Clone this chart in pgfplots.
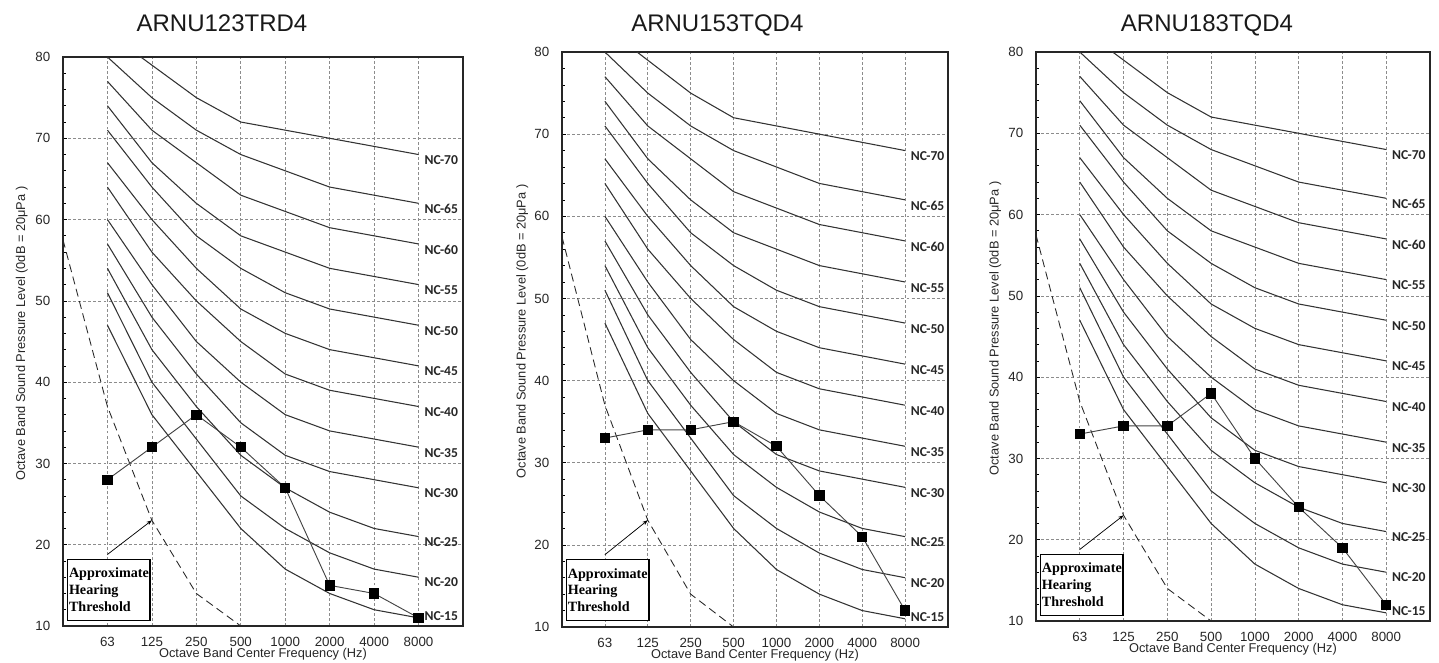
\documentclass[border=0pt]{standalone}
\usepackage{fontspec}
\setmainfont{Liberation Sans}
\newfontfamily\ncfont{Carlito}
\newfontfamily\serifb{Liberation Serif}
\usepackage{pgfplots}
\usepackage{pgfplotstable}
\pgfplotsset{compat=1.18}
\usetikzlibrary{arrows.meta}

% NC curves: x position (1=63 Hz ... 8=8000 Hz)
\pgfplotstableread{
x nca ncb ncc ncd nce ncf ncg nch nci ncj nck ncl
1 47 51 54 57 60 64 67 71 74 77 80 83
2 36 40 44 48 52 56 60 64 67 71 75 79
3 29 33 37 41 45 50 54 58 62 67 71 75
4 22 26 31 35 40 45 49 54 58 63 68 72
5 17 22 27 31 36 41 46 51 56 61 66 71
6 14 19 24 29 34 39 44 49 54 59 64 70
7 12 17 22 28 33 38 43 48 53 58 63 69
8 11 16 21 27 32 37 42 47 52 57 62 68
}\nctable

\pgfplotstableread{
x y
0 57.5
1 37
2 23
3 14
4 10
}\thresh

\pgfplotstableread{
x y
1 28
2 32
3 36
4 32
5 27
6 15
7 14
8 11
}\unitA

\pgfplotstableread{
x y
1 33
2 34
3 34
4 35
5 32
6 26
7 21
8 12
}\unitB

\pgfplotstableread{
x y
1 33
2 34
3 34
4 38
5 30
6 24
7 19
8 12
}\unitC

\definecolor{nccol}{HTML}{333333}
\definecolor{gridcol}{HTML}{8C8C8C}
\definecolor{datacol}{HTML}{444444}

\pgfplotsset{
  /pgf/number format/assume math mode=true,
  ncaxis/.style={
    scale only axis,
    xmin=0, xmax=9, ymin=10, ymax=80,
    xtick={1,...,8},
    xticklabels={63,125,250,500,1000,2000,4000,8000},
    ytick={10,20,...,80},
    minor y tick num=4,
    tick pos=left, tick align=inside,
    xtick style={draw=none},
    major tick length=3pt, minor tick length=2.5pt,
    every tick/.style={black, line width=0.5pt},
    grid=major,
    grid style={gridcol, line width=0.5pt, dash pattern=on 2.2pt off 1.6pt},
    axis line style={line width=0.85pt, black!85},
    tick label style={font=\fontsize{10}{10}\selectfont, text=black!85},
    xticklabel style={yshift=-5pt},
    yticklabel style={xshift=-6pt},
    xlabel={Octave Band Center Frequency (Hz)},
    ylabel={Octave Band Sound Pressure Level (0dB = 20μPa )},
    label style={font=\fontsize{9.6}{10}\selectfont, text=black!85},
    xlabel style={at={(axis description cs:0.5,0)}, anchor=base, yshift=-24pt},
    ylabel style={at={(axis description cs:-0.103,0.514)}, anchor=center},
    clip=true,
  },
  ncline/.style={nccol, line width=0.8pt, no markers},
  dataline/.style={datacol, line width=0.7pt, mark=square*, mark size=3.5pt,
     mark options={black, fill=black, solid}},
}

\newcommand\ncstuff{%
  \addplot[ncline] table[x=x,y=nca] {\nctable};
  \addplot[ncline] table[x=x,y=ncb] {\nctable};
  \addplot[ncline] table[x=x,y=ncc] {\nctable};
  \addplot[ncline] table[x=x,y=ncd] {\nctable};
  \addplot[ncline] table[x=x,y=nce] {\nctable};
  \addplot[ncline] table[x=x,y=ncf] {\nctable};
  \addplot[ncline] table[x=x,y=ncg] {\nctable};
  \addplot[ncline] table[x=x,y=nch] {\nctable};
  \addplot[ncline] table[x=x,y=nci] {\nctable};
  \addplot[ncline] table[x=x,y=ncj] {\nctable};
  \addplot[ncline] table[x=x,y=nck] {\nctable};
  \addplot[ncline] table[x=x,y=ncl] {\nctable};
  \addplot[black!85, line width=0.65pt, dash pattern=on 6pt off 3.5pt] table[x=x,y=y] {\thresh};
}

\newcommand\nclab[2]{%
  \node[anchor=west, font=\ncfont\bfseries\fontsize{10.2}{10}\selectfont, text=black!85, inner sep=0pt] at (axis cs:8.13,#1) {#2};
}

\newcommand\ncannot{%
  \draw[black, line width=0.55pt, -{Stealth[length=4pt,width=3pt]}] (axis cs:1,18.8) -- (axis cs:2,23);
  \node[draw=black, line width=1pt, fill=white, anchor=north west,
        minimum width=61.5pt, minimum height=45.75pt, inner xsep=1pt, inner ysep=1pt,
        align=left, font=\serifb\bfseries\fontsize{10.6}{12.4}\selectfont]
        at (axis cs:0.09,18.3) {Approximate\\Hearing\\Threshold};
  \nclab{67.3}{NC-70}
  \nclab{61.3}{NC-65}
  \nclab{56.3}{NC-60}
  \nclab{51.3}{NC-55}
  \nclab{46.3}{NC-50}
  \nclab{41.3}{NC-45}
  \nclab{36.3}{NC-40}
  \nclab{31.3}{NC-35}
  \nclab{26.3}{NC-30}
  \nclab{20.3}{NC-25}
  \nclab{15.4}{NC-20}
  \nclab{11.2}{NC-15}
}

\begin{document}
\begin{tikzpicture}
\useasboundingbox (0pt,0pt) rectangle (1079.25pt,497.25pt);

% ---------------- Panel 1 ----------------
\begin{axis}[ncaxis, at={(47.25pt,27.75pt)}, anchor=south west, width=300pt, height=426.75pt]
\ncstuff
\addplot[dataline] table[x=x,y=y] {\unitA};
\ncannot
\end{axis}

% ---------------- Panel 2 ----------------
\begin{axis}[ncaxis, at={(421.5pt,27pt)}, anchor=south west, width=289.5pt, height=431.25pt]
\ncstuff
\addplot[dataline] table[x=x,y=y] {\unitB};
\ncannot
\end{axis}

% ---------------- Panel 3 ----------------
\begin{axis}[ncaxis, at={(777pt,31.5pt)}, anchor=south west, width=295.5pt, height=426.75pt]
\ncstuff
\addplot[dataline] table[x=x,y=y] {\unitC};
\ncannot
\end{axis}

\node[anchor=base, font=\fontsize{18}{18}\selectfont, text=black!90] at (166.5pt,473.25pt) {ARNU123TRD4};
\node[anchor=base, font=\fontsize{18}{18}\selectfont, text=black!90] at (538pt,473.25pt) {ARNU153TQD4};
\node[anchor=base, font=\fontsize{18}{18}\selectfont, text=black!90] at (905.25pt,473.25pt) {ARNU183TQD4};
\end{tikzpicture}
\end{document}
